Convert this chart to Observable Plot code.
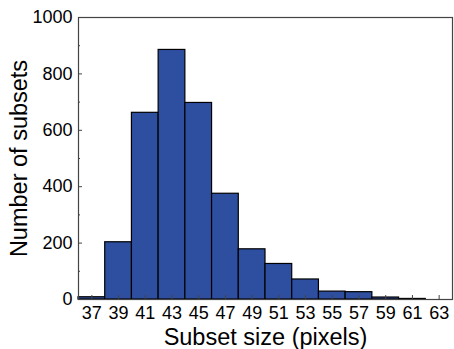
<!DOCTYPE html>
<html>
<head>
<meta charset="utf-8">
<script src="https://cdn.jsdelivr.net/npm/d3@7"></script>
<script src="https://cdn.jsdelivr.net/npm/@observablehq/plot@0.6"></script>
<style>
  html, body { margin: 0; padding: 0; background: #fff; }
  svg { font-family: "Liberation Sans", Arial, sans-serif; }
  g[aria-label="x-axis tick label"], g[aria-label="y-axis tick label"] { font-size: 18px; }
  g[aria-label="x-axis label"], g[aria-label="y-axis label"] { font-size: 23.5px; }
</style>
</head>
<body>
<div id="chart"></div>
<script>
const sizes  = [37, 39, 41, 43, 45, 47, 49, 51, 53, 55, 57, 59, 61, 63];
const counts = [8, 203, 662, 885, 697, 375, 178, 126, 71, 28, 26, 7, 2, 0];
const xTicks = [37, 39, 41, 43, 45, 47, 49, 51, 53, 55, 57, 59, 61, 63];
const yTicks = [0, 200, 400, 600, 800, 1000];
const yMinor = [100, 300, 500, 700, 900];
const binWidth = 2;

const data = sizes.map((s, i) => ({size: s, count: counts[i]}));

const chart = Plot.plot({
  width: 454,
  height: 349,
  marginLeft: 78,
  marginRight: 2,
  marginTop: 17,
  marginBottom: 50,
  style: {fontFamily: "'Liberation Sans', Arial, sans-serif", color: "#000", background: "#fff"},
  x: {domain: [36, 64]},
  y: {domain: [0, 1000]},
  marks: [
    Plot.rectY(data, {x1: d => d.size - binWidth / 2, x2: d => d.size + binWidth / 2, y: "count",
      fill: "#2e4ea0", stroke: "#000", strokeWidth: 1.2}),
    Plot.axisX(xTicks, {tickSize: -4, tickFormat: () => "", label: null, stroke: "#444"}),
    Plot.axisX(xTicks, {tickSize: 0, tickPadding: 7, tickFormat: d3.format("d"), label: "Subset size (pixels)",
      labelAnchor: "center", labelArrow: "none", labelOffset: 45}),
    Plot.axisY(yTicks, {tickSize: -4, tickFormat: () => "", label: null, stroke: "#444"}),
    Plot.axisY(yMinor, {tickSize: -2, tickFormat: () => "", label: null, stroke: "#444"}),
    Plot.axisY(yTicks, {tickSize: 0, tickPadding: 6, tickFormat: d3.format("d"), label: "Number of subsets",
      labelAnchor: "center", labelArrow: "none", labelOffset: 68}),
    Plot.frame({stroke: "#444", strokeWidth: 1.2})
  ]
});
document.getElementById("chart").appendChild(chart);
</script>
</body>
</html>
